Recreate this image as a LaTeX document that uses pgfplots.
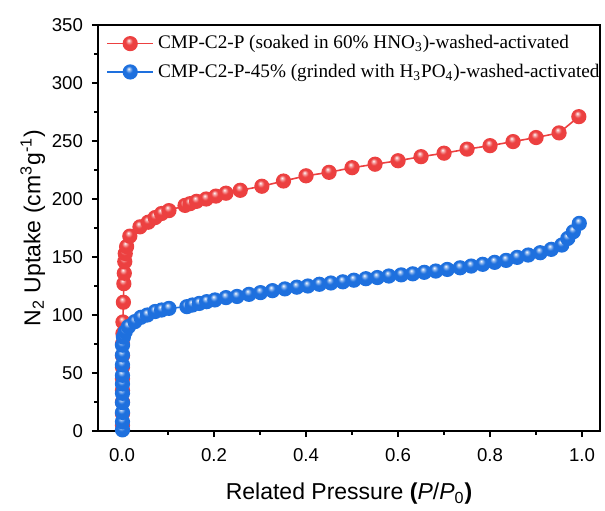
\documentclass[border=0pt]{standalone}
\usepackage{pgfplots}
\pgfplotsset{compat=1.18}
\usepackage{fontspec}
\setmainfont{Liberation Sans}
\newfontfamily\timesfont{Liberation Serif}
\definecolor{cred}{RGB}{236,64,64}
\definecolor{cblue}{RGB}{30,112,222}
\pgfdeclareradialshading{redball}{\pgfpoint{-6bp}{12bp}}{color(0bp)=(white); color(5bp)=(cred!45!white); color(13bp)=(cred); color(30bp)=(cred); color(38bp)=(cred!88!black); color(50bp)=(cred!80!black)}
\pgfdeclareradialshading{blueball}{\pgfpoint{-6bp}{12bp}}{color(0bp)=(white); color(5bp)=(cblue!45!white); color(13bp)=(cblue); color(30bp)=(cblue); color(38bp)=(cblue!88!black); color(50bp)=(cblue!80!black)}
\pgfdeclareplotmark{rball}{\shade[shading=redball] (0pt,0pt) circle (\pgfplotmarksize);}
\pgfdeclareplotmark{bball}{\shade[shading=blueball] (0pt,0pt) circle (\pgfplotmarksize);}
\begin{document}
\begin{tikzpicture}
\useasboundingbox (-49pt,-39.5pt) rectangle (253.5pt,215.5pt);
\begin{axis}[
  at={(0,0)}, anchor=south west,
  scale only axis, width=251pt, height=203pt,
  xmin=-0.0522, xmax=1.039, ymin=0, ymax=350,
  axis line style={line width=0.9pt},
  xtick={0,0.2,0.4,0.6,0.8,1.0},
  ytick={0,50,...,350},
  minor x tick num=1, minor y tick num=1,
  xtick pos=bottom, ytick pos=left,
  tick align=outside,
  major tick length=3pt, minor tick length=1.8pt,
  tick style={black, line width=0.7pt},
  xticklabel style={/pgf/number format/fixed, /pgf/number format/precision=1, /pgf/number format/fixed zerofill},
  /pgf/number format/assume math mode=true,
  ticklabel style={font=\fontsize{9.3}{11}\selectfont},
  xticklabel shift=2pt, yticklabel shift=1pt,
  xlabel={Related Pressure \textbf{(}\textit{P}/\textit{P}\textsubscript{0}\textbf{)}},
  ylabel={N\textsubscript{2} Uptake (cm\textsuperscript{3}g\textsuperscript{-1})},
  label style={font=\fontsize{11.5}{13}\selectfont},
  xlabel style={at={(axis description cs:0.5,-0.155)}, anchor=center},
  ylabel style={at={(axis description cs:-0.13,0.5)}, anchor=center},
  legend style={draw=none, fill=none, at={(axis description cs:0.012,0.99)}, anchor=north west,
    font=\timesfont\fontsize{9.6}{11}\selectfont, row sep=2pt, inner sep=1pt},
  legend cell align=left,
  legend image code/.code={
    \draw[#1, mark=none] (0cm,0cm) -- (23pt,0cm);
    \draw[#1, only marks] plot coordinates {(11.5pt,0cm)};
  },
]
\addplot[cred, line width=0.8pt, mark=rball, mark size=3.4pt] coordinates {
(0.001,5) (0.001,15) (0.001,25) (0.001,35) (0.001,45) (0.001,55) (0.001,65) (0.001,75)
(0.002,84) (0.002,94) (0.003,111) (0.004,127) (0.005,136) (0.006,146) (0.007,153) (0.010,159)
(0.017,168) (0.039,176) (0.057,180) (0.072,184) (0.086,187.5) (0.102,190)
(0.137,194.5) (0.148,196) (0.162,198) (0.183,200) (0.204,202.5) (0.226,205) (0.257,207.5)
(0.304,211) (0.351,215.5) (0.40,220) (0.45,223) (0.50,227) (0.55,230) (0.60,233)
(0.65,236.5) (0.70,239.5) (0.75,243) (0.80,246) (0.85,249.5) (0.90,253) (0.95,257) (0.993,271)
};
\addlegendentry{CMP-C2-P (soaked in 60\% HNO\textsubscript{3})-washed-activated}
\addplot[cblue, line width=0.8pt, mark=bball, mark size=3.4pt] coordinates {
(0.001,1) (0.001,8) (0.001,16) (0.001,24.5) (0.001,32.5) (0.001,40.5) (0.001,48) (0.001,57)
(0.001,65.5) (0.001,74) (0.003,81) (0.007,85.6) (0.014,90) (0.028,94.3) (0.041,98) (0.055,100)
(0.072,103) (0.086,104.3) (0.102,105.7) (0.141,107.2) (0.153,108.6) (0.168,110) (0.184,111.5)
(0.202,113) (0.226,115) (0.250,116) (0.276,117.8) (0.301,119.3) (0.327,121) (0.354,122.5)
(0.38,124) (0.404,125) (0.429,126.5) (0.454,127.6) (0.48,128.6) (0.504,130) (0.53,131.3)
(0.555,132.3) (0.58,133.6) (0.607,134.6) (0.632,135.5) (0.657,136.8) (0.682,137.9) (0.707,139.3)
(0.735,140.7) (0.759,142.2) (0.784,143.7) (0.81,145.4) (0.835,147.1) (0.859,149.7) (0.883,151.7)
(0.909,153.7) (0.933,156.6) (0.956,160.3) (0.969,166) (0.981,171.8) (0.994,179)
};
\addlegendentry{CMP-C2-P-45\% (grinded with H\textsubscript{3}PO\textsubscript{4})-washed-activated}
\end{axis}
\end{tikzpicture}
\end{document}
